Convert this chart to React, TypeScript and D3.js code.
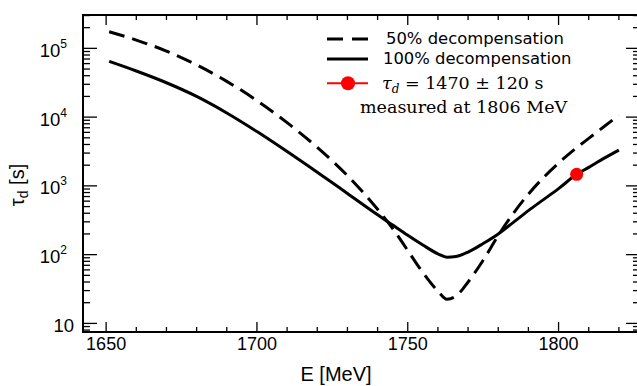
import React from "react";
import * as d3 from "d3";

const energies = [1651, 1660, 1670, 1680, 1690, 1700, 1710, 1720, 1730, 1740, 1745, 1750, 1755, 1760, 1763, 1766, 1770, 1775, 1780, 1785, 1790, 1795, 1800, 1806, 1810, 1815, 1820];
const tau100 = [64600, 46800, 31600, 20000, 11500, 6170, 3160, 1580, 776, 380, 269, 191, 138, 103, 92, 94, 109, 145, 200, 295, 437, 631, 912, 1470, 1860, 2510, 3310];
const tau50 = [174000, 132000, 91200, 57500, 33100, 17400, 8300, 3630, 1410, 457, 240, 115, 55, 29.5, 22.5, 25, 40, 83, 190, 398, 759, 1320, 2140, 3590, 4900, 7240, 10700];
const measuredE = [1806];
const measuredTau = [1470];
const measuredErr = [120];
const xMajorTicks = [1650, 1700, 1750, 1800];
const yMajorTicks = [10, 100, 1000, 10000, 100000];
const yTickExponents = ["", "2", "3", "4", "5"];
const legendLabels = ["50% decompensation", "100% decompensation"];

const W = 637, H = 386;
const L = 83, T = 15, R = 640, B = 332;

export default function App() {
  const x = d3.scaleLinear().domain([1642.33, 1827]).range([L, R]);
  const y = d3.scaleLog().domain([Math.pow(10, 0.875), Math.pow(10, 5.485)]).range([B, T]);

  const line = d3
    .line<[number, number]>()
    .x((d) => x(d[0]))
    .y((d) => y(d[1]))
    .curve(d3.curveMonotoneX);

  const solidPath = line(energies.map((e, i) => [e, tau100[i]] as [number, number])) || "";
  const dashPath = line(energies.map((e, i) => [e, tau50[i]] as [number, number])) || "";

  const xMinor = d3.range(1650, 1830, 10).filter((v) => !xMajorTicks.includes(v));
  const yMinor: number[] = [];
  for (let p = 0; p <= 5; p++) {
    for (let m = 2; m <= 9; m++) {
      const v = m * Math.pow(10, p);
      const [a, b] = y.domain();
      if (v > a && v < b) yMinor.push(v);
    }
  }

  const sans = "'Liberation Sans', Arial, Helvetica, sans-serif";
  const legSans = "'DejaVu Sans', sans-serif";
  const serif = "'DejaVu Serif', 'Liberation Serif', serif";

  return (
    <svg width={W} height={H} style={{ position: "absolute", left: 0, top: 0, background: "#fff" }}>
      <rect x={0} y={0} width={W} height={H} fill="#fff" />
      <defs>
        <clipPath id="plotclip">
          <rect x={L} y={T} width={R - L} height={B - T} />
        </clipPath>
      </defs>
      {/* ticks */}
      <g stroke="#000" strokeWidth={1.3}>
        {xMajorTicks.map((v) => (
          <g key={"xm" + v}>
            <line x1={x(v)} x2={x(v)} y1={B} y2={B - 10} />
            <line x1={x(v)} x2={x(v)} y1={T} y2={T + 10} />
          </g>
        ))}
        {xMinor.map((v) => (
          <g key={"xn" + v}>
            <line x1={x(v)} x2={x(v)} y1={B} y2={B - 5} />
            <line x1={x(v)} x2={x(v)} y1={T} y2={T + 5} />
          </g>
        ))}
        {yMajorTicks.map((v) => (
          <g key={"ym" + v}>
            <line x1={L} x2={L + 14} y1={y(v)} y2={y(v)} />
            <line x1={R} x2={R - 14} y1={y(v)} y2={y(v)} />
          </g>
        ))}
        {yMinor.map((v) => (
          <g key={"yn" + v}>
            <line x1={L} x2={L + 7} y1={y(v)} y2={y(v)} />
            <line x1={R} x2={R - 7} y1={y(v)} y2={y(v)} />
          </g>
        ))}
      </g>
      {/* frame */}
      <rect x={L} y={T} width={R - L} height={B - T} fill="none" stroke="#000" strokeWidth={2} />

      {/* curves */}
      <g clipPath="url(#plotclip)" fill="none" stroke="#000" strokeWidth={3}>
        <path d={dashPath} strokeDasharray="16,8" />
        <path d={solidPath} />
      </g>
      {measuredE.map((e, i) => (
        <circle key={"m" + i} cx={x(e)} cy={y(measuredTau[i])} r={6.5} fill="#ff0000" />
      ))}

      {/* x tick labels */}
      <g fontFamily={sans} fontSize={18} textAnchor="middle" fill="#000">
        {xMajorTicks.map((v) => (
          <text key={"xl" + v} x={x(v)} y={350}>
            {v}
          </text>
        ))}
      </g>
      {/* y tick labels */}
      <g fontFamily={sans} fill="#000">
        {yMajorTicks.map((v, i) => (
          <text key={"yl" + v} x={yTickExponents[i] ? 67 : 74} y={y(v) + 8.4} fontSize={18.5} textAnchor="end">
            10
            {yTickExponents[i] ? (
              <tspan fontSize={12} dy={-9}>
                {yTickExponents[i]}
              </tspan>
            ) : null}
          </text>
        ))}
      </g>
      {/* axis titles */}
      <text x={336} y={381} fontFamily={sans} fontSize={20} textAnchor="middle" fill="#000">
        E [MeV]
      </text>
      <text transform="translate(24,185) rotate(-90)" fontFamily={sans} fontSize={20} textAnchor="middle" fill="#000">
        τ<tspan fontSize={14} dy={4}>d</tspan>
        <tspan dy={-4}> [s]</tspan>
      </text>

      {/* legend */}
      <g>
        <line x1={327} x2={368} y1={39} y2={39} stroke="#000" strokeWidth={3} strokeDasharray="16,9" />
        <text x={386} y={43.5} fontFamily={legSans} fontSize={16.4} fill="#000">
          {legendLabels[0]}
        </text>
        <line x1={327} x2={368} y1={59} y2={59} stroke="#000" strokeWidth={3} />
        <text x={383} y={63.5} fontFamily={legSans} fontSize={16.4} fill="#000">
          {legendLabels[1]}
        </text>
        <line x1={327} x2={368} y1={83.3} y2={83.3} stroke="#ff0000" strokeWidth={2} />
        <circle cx={348} cy={83.3} r={7} fill="#ff0000" />
        <text x={382} y={88.5} fontFamily={serif} fontSize={17.5} fill="#000">
          <tspan fontStyle="italic">τ</tspan>
          <tspan fontStyle="italic" fontSize={12} dy={4}>d</tspan>
          <tspan dy={-4}> = {measuredTau[0]} ± {measuredErr[0]} s</tspan>
        </text>
        <text x={360} y={112.7} fontFamily={serif} fontSize={17.5} fill="#000">
          measured at {measuredE[0]} MeV
        </text>
      </g>
    </svg>
  );
}
